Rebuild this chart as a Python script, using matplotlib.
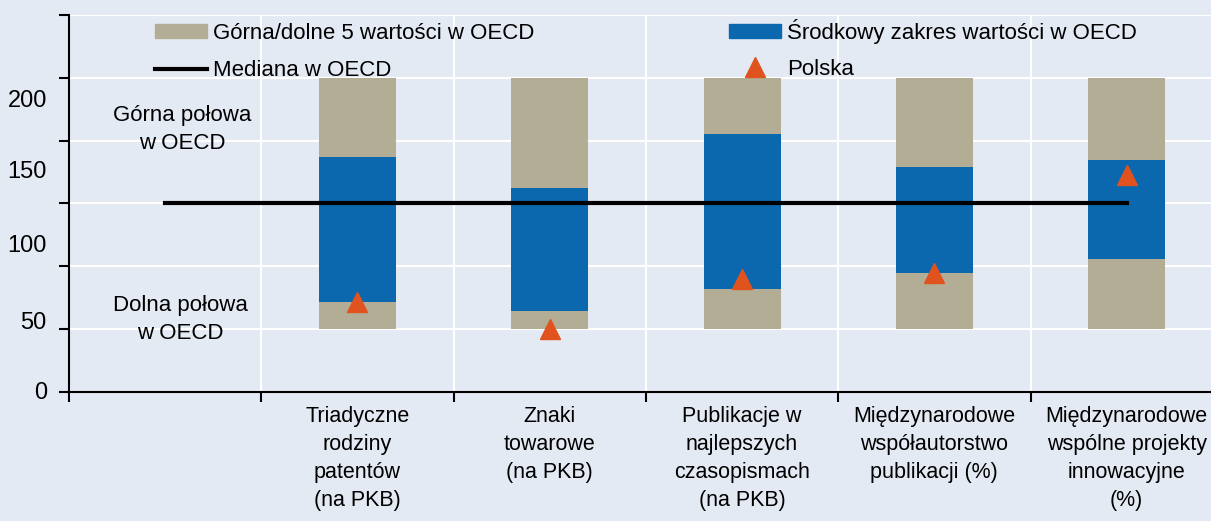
import matplotlib.pyplot as plt
from matplotlib.patches import Patch
from matplotlib.lines import Line2D

plt.rcParams['font.family'] = ['Liberation Sans', 'DejaVu Sans']

categories = ["",
              "Triadyczne\nrodziny\npatentów\n(na PKB)",
              "Znaki\ntowarowe\n(na PKB)",
              "Publikacje w\nnajlepszych\nczasopismach\n(na PKB)",
              "Międzynarodowe\nwspółautorstwo\npublikacji (%)",
              "Międzynarodowe\nwspólne projekty\ninnowacyjne\n(%)"]

outer_low = [50, 50, 50, 50, 50]
outer_high = [250, 250, 250, 250, 250]
mid_low = [71.5, 64.5, 82, 94.4, 105.6]
mid_high = [187, 162.3, 205, 178.8, 184.6]
polska = [71.5, 50, 90, 94.7, 172.3]
median = 150

ytick_labels = ["0", "50", "100", "150", "200"]
ytick_label_pos = [0.8, 56.5, 117.8, 177.4, 233.2]

bg = "#E4EAF3"
grey = "#B2AD94"
blue = "#0C68AE"
orange = "#E0531F"
fs = 16

fig = plt.figure(figsize=(12.11, 5.21), dpi=100, facecolor=bg)
ax = fig.add_axes([69 / 1211, 129 / 521, 1 - 69 / 1211, 377 / 521])
ax.set_facecolor(bg)

xs = list(range(1, len(categories)))
ax.bar(xs, [h - l for l, h in zip(outer_low, outer_high)], bottom=outer_low,
       width=0.4, color=grey, zorder=2)
ax.bar(xs, [h - l for l, h in zip(mid_low, mid_high)], bottom=mid_low,
       width=0.4, color=blue, zorder=3)
ax.plot([0, len(categories) - 1], [median, median], color="black", lw=3, zorder=4)
ax.plot(xs, polska, ls="none", marker="^", ms=14, color=orange, zorder=5)

ax.text(0.09, 209, "Górna połowa\nw OECD", ha="center", va="center", fontsize=fs,
        linespacing=1.45)
ax.text(0.08, 58, "Dolna połowa\nw OECD", ha="center", va="center", fontsize=fs,
        linespacing=1.45)

ax.set_xlim(-0.5, -0.5 + (1211 - 69) / 192.3)
ax.set_ylim(0, 300)

# gridlines / tick marks at slot edges and every 50, labels placed separately
ax.set_xticks([i - 0.5 for i in range(len(categories))])
ax.set_xticks(range(len(categories)), minor=True)
ax.set_xticklabels([])
ax.set_xticklabels(categories, minor=True, fontsize=15.5, linespacing=1.44)
ax.set_yticks(range(0, 301, 50))
ax.set_yticklabels([])
ax.set_yticks(ytick_label_pos, minor=True)
ax.set_yticklabels(ytick_labels, minor=True, fontsize=fs + 1)

ax.tick_params(which="major", length=7, width=1.5, color="black")
ax.tick_params(which="minor", length=0)
ax.tick_params(axis="x", which="minor", pad=10)
ax.tick_params(axis="y", which="minor", pad=16)

ax.grid(True, which="major", color="white", lw=1.5, zorder=0)
ax.set_axisbelow(True)
for s in ["top", "right"]:
    ax.spines[s].set_visible(False)
for s in ["left", "bottom"]:
    ax.spines[s].set_linewidth(1.5)

leg_kw = dict(loc="upper left", bbox_transform=fig.transFigure, frameon=False,
              fontsize=fs, borderpad=0, borderaxespad=0, handlelength=2.35,
              handleheight=0.6, handletextpad=0.25)
h1 = [Patch(color=grey), Line2D([], [], color="black", lw=3)]
h2 = [Patch(color=blue), Line2D([], [], ls="none", marker="^", ms=14, color=orange)]
leg1 = ax.legend(h1, ["Górna/dolne 5 wartości w OECD", "Mediana w OECD"],
                 bbox_to_anchor=(155 / 1211, 1 - 23 / 521), labelspacing=0.72,
                 **leg_kw)
ax.add_artist(leg1)
ax.legend(h2, ["Środkowy zakres wartości w OECD", "Polska"],
          bbox_to_anchor=(729 / 1211, 1 - 19 / 521), labelspacing=0.66, **leg_kw)

fig.savefig("out.png", dpi=100, facecolor=bg)
